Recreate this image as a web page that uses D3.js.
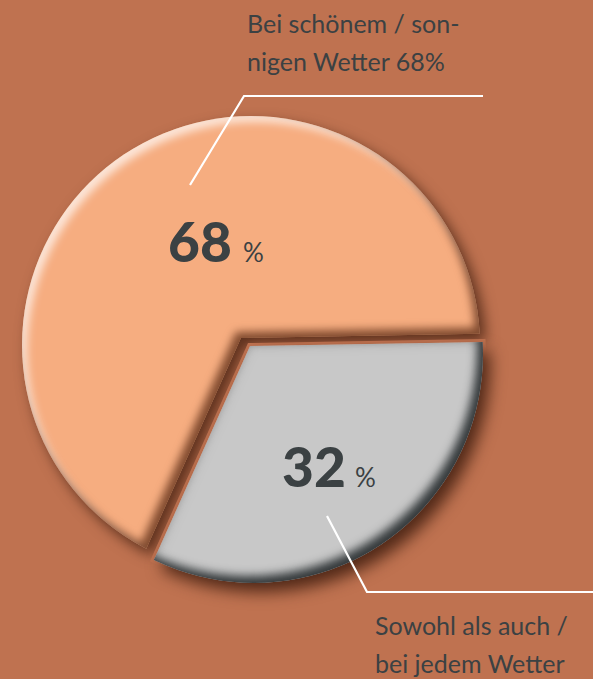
<!DOCTYPE html>
<html><head><meta charset="utf-8">
<script src="https://cdn.jsdelivr.net/npm/d3@7"></script>
<style>html,body{margin:0;padding:0;background:#BF7250;} svg{display:block}</style>
</head><body>
<script>
// ---- data ----
const categories = ["Bei schönem / sonnigen Wetter", "Sowohl als auch / bei jedem Wetter"];
const values = [68, 32];
const valueLabels = ["68", "32"];
const labelLines = [["Bei schönem / son-", "nigen Wetter 68%"], ["Sowohl als auch /", "bei jedem Wetter"]];

// ---- layout ----
const W = 593, H = 679;
const deg = Math.PI / 180;
const svg = d3.select("body").append("svg").attr("width", W).attr("height", H);
svg.append("rect").attr("width", W).attr("height", H).attr("fill", "#BF7250");

svg.append("defs").html(`
<filter id="fOrange" x="-15%" y="-15%" width="130%" height="130%" color-interpolation-filters="sRGB">
  <feGaussianBlur in="SourceAlpha" stdDeviation="7" result="blur"/>
  <feOffset in="blur" dx="6" dy="7" result="offBlur"/>
  <feFlood flood-color="#4a2414" flood-opacity="0.85"/>
  <feComposite in2="offBlur" operator="in" result="drop"/>
  <feGaussianBlur in="SourceAlpha" stdDeviation="4" result="ib"/>
  <feOffset in="ib" dx="5" dy="6" result="ibTL"/>
  <feComposite in="SourceAlpha" in2="ibTL" operator="out" result="rimTL"/>
  <feFlood flood-color="#ffffff" flood-opacity="0.7"/>
  <feComposite in2="rimTL" operator="in" result="hl"/>
  <feOffset in="ib" dx="-5" dy="-6" result="ibBR"/>
  <feComposite in="SourceAlpha" in2="ibBR" operator="out" result="rimBR"/>
  <feFlood flood-color="#5a2a14" flood-opacity="0.75"/>
  <feComposite in2="rimBR" operator="in" result="sh"/>
  <feMerge><feMergeNode in="drop"/><feMergeNode in="SourceGraphic"/><feMergeNode in="hl"/><feMergeNode in="sh"/></feMerge>
</filter>
<filter id="fGray" x="-15%" y="-15%" width="130%" height="130%" color-interpolation-filters="sRGB">
  <feGaussianBlur in="SourceAlpha" stdDeviation="8" result="blur"/>
  <feOffset in="blur" dx="7" dy="9" result="offBlur"/>
  <feFlood flood-color="#4a2414" flood-opacity="0.95"/>
  <feComposite in2="offBlur" operator="in" result="drop"/>
  <feGaussianBlur in="SourceAlpha" stdDeviation="5" result="ib"/>
  <feComposite in="SourceAlpha" in2="ib" operator="arithmetic" k2="1" k3="-1" result="rimAll"/>
  <feFlood flood-color="#7a7a7a" flood-opacity="0.5"/>
  <feComposite in2="rimAll" operator="in" result="bev"/>
  <feOffset in="ib" dx="-6" dy="-7" result="ibBR"/>
  <feComposite in="SourceAlpha" in2="ibBR" operator="out" result="rimBR"/>
  <feFlood flood-color="#2e3436" flood-opacity="0.95"/>
  <feComposite in2="rimBR" operator="in" result="sh"/>
  <feMerge><feMergeNode in="drop"/><feMergeNode in="SourceGraphic"/><feMergeNode in="bev"/><feMergeNode in="sh"/></feMerge>
</filter>`);

const splitAngle = 89 * deg;
const start = splitAngle - 2 * Math.PI * values[0] / d3.sum(values);
const pie = d3.pie().sort(null).value(d => d).startAngle(start).endAngle(start + 2 * Math.PI);
const arcs = pie(values);

const geom = [
  {fill: "#F6AD80", center: [251, 345], apex: [241, 338], r: 229, filter: "fOrange"},
  {fill: "#C8C8C8", center: [254, 354], apex: [250, 346], r: 229, filter: "fGray"}
];

const circleArc = d3.arc().innerRadius(0).startAngle(0).endAngle(2 * Math.PI);
const sectorArc = d3.arc().innerRadius(0).outerRadius(700);
const defs = svg.select("defs");
let clipId = 0;

function slice(parent, d, g, grow, fill) {
  const mid = (d.startAngle + d.endAngle) / 2;
  const half = (d.endAngle - d.startAngle) / 2;
  const shift = grow / Math.sin(half);
  const ax = g.apex[0] - shift * Math.sin(mid), ay = g.apex[1] + shift * Math.cos(mid);
  const id = "clip" + (clipId++);
  defs.append("clipPath").attr("id", id).append("path")
    .attr("transform", `translate(${ax},${ay})`)
    .attr("d", sectorArc(d));
  parent.append("g").attr("clip-path", `url(#${id})`)
    .append("path")
    .attr("transform", `translate(${g.center[0]},${g.center[1]})`)
    .attr("d", circleArc({outerRadius: g.r + grow}))
    .attr("fill", fill);
}

// orange slice
const gO = svg.append("g").attr("filter", "url(#fOrange)");
slice(gO, arcs[0], geom[0], 0, geom[0].fill);
// brown outline behind gray
slice(svg, arcs[1], geom[1], 3, "#BF7250");
// gray slice
const gG = svg.append("g").attr("filter", "url(#fGray)");
slice(gG, arcs[1], geom[1], 0, geom[1].fill);

// leader lines
const leaders = [
  [[190, 185], [244, 96], [483, 96]],
  [[327, 516], [367, 592], [593, 592]]
];
svg.selectAll("path.leader").data(leaders).join("path")
  .attr("class", "leader")
  .attr("d", d3.line())
  .attr("fill", "none").attr("stroke", "#ffffff").attr("stroke-width", 2.2);

// category labels
const labelPos = [[247, 33], [375, 635]];
const txt = "#3B4143";
labelLines.forEach((lines, i) => {
  const t = svg.append("text").attr("font-family", "Lato, 'Open Sans', sans-serif")
    .attr("font-size", 25).attr("fill", txt);
  lines.forEach((s, j) => t.append("tspan").attr("x", labelPos[i][0]).attr("y", labelPos[i][1] + j * 38).text(s));
});

// value labels
const valPos = [[168, 262, 243], [282, 487, 355]];
valueLabels.forEach((v, i) => {
  svg.append("text").attr("x", valPos[i][0]).attr("y", valPos[i][1])
    .attr("font-family", "Lato, sans-serif").attr("font-weight", 900).attr("font-size", 55)
    .attr("fill", txt).text(v);
  svg.append("text").attr("x", valPos[i][2]).attr("y", valPos[i][1])
    .attr("font-family", "Lato, sans-serif").attr("font-size", 26)
    .attr("fill", txt).text("%");
});
</script>
</body></html>
